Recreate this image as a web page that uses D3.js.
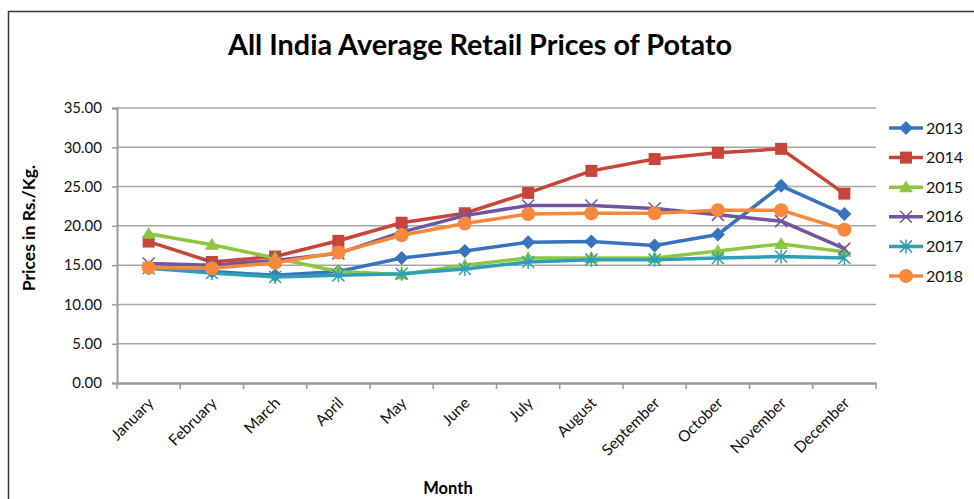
<!DOCTYPE html>
<html>
<head>
<meta charset="utf-8">
<script src="https://cdn.jsdelivr.net/npm/d3@7"></script>
<style>
  body { margin: 0; background: #fff; }
  svg { display: block; font-family: Lato, "Open Sans", sans-serif; }
</style>
</head>
<body>
<div class="main"></div>
<script>

const months = ["January", "February", "March", "April", "May", "June", "July",
    "August", "September", "October", "November", "December"]
const years = ["2013", "2014", "2015", "2016", "2017", "2018"]

const p2013 = [14.7, 14.2, 13.7, 14.2, 15.9, 16.8, 17.9, 18.0, 17.5, 18.9, 25.1, 21.5]
const p2014 = [18.0, 15.4, 16.1, 18.1, 20.4, 21.6, 24.2, 27.0, 28.5, 29.3, 29.8, 24.1]
const p2015 = [19.0, 17.6, 15.9, 14.2, 13.8, 15.0, 15.9, 15.9, 15.9, 16.8, 17.7, 16.7]
const p2016 = [15.2, 15.0, 15.6, 16.5, 19.2, 21.3, 22.6, 22.6, 22.2, 21.4, 20.6, 17.1]
const p2017 = [14.6, 14.0, 13.5, 13.7, 13.9, 14.5, 15.4, 15.7, 15.7, 15.9, 16.1, 15.9]
const p2018 = [14.7, 14.6, 15.3, 16.6, 18.8, 20.3, 21.5, 21.6, 21.6, 22.0, 22.0, 19.5]
const yTicks = [0, 5, 10, 15, 20, 25, 30, 35]

const seriesValues = [p2013, p2014, p2015, p2016, p2017, p2018]
const colors = ["#3873BE", "#C8453A", "#8DC63F", "#7255A0", "#2E9FB5", "#F8883A"]
const shapes = ["diamond", "square", "triangle", "x", "star", "circle"]

////////////
// CANVAS //
////////////

const w = 974
const h = 499
const plot = { left: 117, right: 876, top: 108, bottom: 383 }

const svg = d3.select(".main")
    .append("svg")
    .attr("width", w)
    .attr("height", h)

// outer frame of the chart object
svg.append("rect")
    .attr("x", 8.5).attr("y", 11.5)
    .attr("width", 1000).attr("height", 600)
    .attr("fill", "#fff")
    .attr("stroke", "#333")
    .attr("stroke-width", 1.5)

////////////
// SCALES //
////////////

const xScale = d3.scaleBand()
    .domain(months)
    .range([plot.left, plot.right])

const yScale = d3.scaleLinear()
    .domain([0, 35])
    .range([plot.bottom, plot.top])

const xc = m => xScale(m) + xScale.bandwidth() / 2

///////////////
// GRIDLINES //
///////////////

svg.append("g")
    .selectAll("line")
    .data(yTicks.filter(t => t > 0))
    .enter()
    .append("line")
    .attr("x1", plot.left).attr("x2", plot.right)
    .attr("y1", d => yScale(d)).attr("y2", d => yScale(d))
    .attr("stroke", "#a6a6a6")
    .attr("stroke-width", 1.5)

///////////
// AXLES //
///////////

const yAxis = d3.axisLeft(yScale)
    .tickValues(yTicks)
    .tickFormat(d3.format(".2f"))
    .tickSize(5)
    .tickPadding(10)

const yAxisG = svg.append("g")
    .attr("transform", `translate(${plot.left},0)`)
    .call(yAxis)
yAxisG.select(".domain").attr("stroke", "#999").attr("stroke-width", 2)
yAxisG.selectAll(".tick line").attr("stroke", "#999").attr("stroke-width", 1.5)
yAxisG.selectAll(".tick text")
    .attr("font-size", 15)
    .attr("fill", "#111")
    .attr("font-family", "Lato")

const xAxisG = svg.append("g")
    .attr("transform", `translate(0,${plot.bottom})`)
    .call(d3.axisBottom(xScale).tickSize(0).tickFormat(""))
xAxisG.select(".domain").attr("stroke", "#999").attr("stroke-width", 2.5)

// tick marks on band boundaries
svg.append("g")
    .selectAll("line")
    .data(months.map(m => xScale(m)).concat([plot.right]))
    .enter()
    .append("line")
    .attr("x1", d => d).attr("x2", d => d)
    .attr("y1", plot.bottom).attr("y2", plot.bottom + 6)
    .attr("stroke", "#999")
    .attr("stroke-width", 1.5)

svg.append("g")
    .selectAll("text")
    .data(months)
    .enter()
    .append("text")
    .attr("transform", d => `translate(${xc(d) + 6},${plot.bottom + 21}) rotate(-45)`)
    .attr("text-anchor", "end")
    .attr("font-size", 15.5)
    .attr("fill", "#111")
    .text(d => d)

///////////
// TITLE //
///////////

svg.append("text")
    .attr("x", 480).attr("y", 55)
    .attr("text-anchor", "middle")
    .attr("font-size", 28.8)
    .attr("font-weight", "bold")
    .attr("fill", "#000")
    .text("All India Average Retail Prices of Potato")

svg.append("text")
    .attr("x", 448).attr("y", 494)
    .attr("text-anchor", "middle")
    .attr("font-size", 16.5)
    .attr("font-weight", "bold")
    .text("Month")

svg.append("text")
    .attr("transform", "translate(35,228) rotate(-90)")
    .attr("text-anchor", "middle")
    .attr("font-size", 17.5)
    .attr("font-weight", "bold")
    .text("Prices in Rs./Kg.")

/////////////
// MARKERS //
/////////////

const drawMarker = (g, shape, color) => {
    if (shape === "diamond") {
        g.append("path").attr("d", "M0,-7L7,0L0,7L-7,0Z").attr("fill", color)
    } else if (shape === "square") {
        g.append("rect").attr("x", -6).attr("y", -6).attr("width", 12).attr("height", 12).attr("fill", color)
    } else if (shape === "triangle") {
        g.append("path").attr("d", "M0,-7L7,5L-7,5Z").attr("fill", color)
    } else if (shape === "x") {
        g.append("path").attr("d", "M-6,-6L6,6M-6,6L6,-6").attr("stroke", color).attr("stroke-width", 1.5).attr("fill", "none")
    } else if (shape === "star") {
        g.append("path").attr("d", "M-6,-6L6,6M-6,6L6,-6M0,-7L0,7").attr("stroke", color).attr("stroke-width", 1.5).attr("fill", "none")
    } else {
        g.append("circle").attr("r", 7).attr("fill", color)
    }
}

///////////
// LINES //
///////////

const line = d3.line()
    .x((d, i) => xc(months[i]))
    .y(d => yScale(d))

seriesValues.forEach((vals, s) => {
    const g = svg.append("g")
    g.append("path")
        .datum(vals)
        .attr("d", line)
        .attr("fill", "none")
        .attr("stroke", colors[s])
        .attr("stroke-width", 3.5)
        .attr("stroke-linejoin", "round")
    vals.forEach((v, i) => {
        const mg = g.append("g").attr("transform", `translate(${xc(months[i])},${yScale(v)})`)
        drawMarker(mg, shapes[s], colors[s])
    })
})

////////////
// LEGEND //
////////////

const legend = svg.append("g")
years.forEach((y, s) => {
    const ly = 128 + s * 29.6
    legend.append("line")
        .attr("x1", 889).attr("x2", 923)
        .attr("y1", ly).attr("y2", ly)
        .attr("stroke", colors[s])
        .attr("stroke-width", 3.5)
    drawMarker(legend.append("g").attr("transform", `translate(906,${ly})`), shapes[s], colors[s])
    legend.append("text")
        .attr("x", 926).attr("y", ly + 5.5)
        .attr("font-size", 16)
        .attr("fill", "#111")
        .text(y)
})

</script>
</body>
</html>
